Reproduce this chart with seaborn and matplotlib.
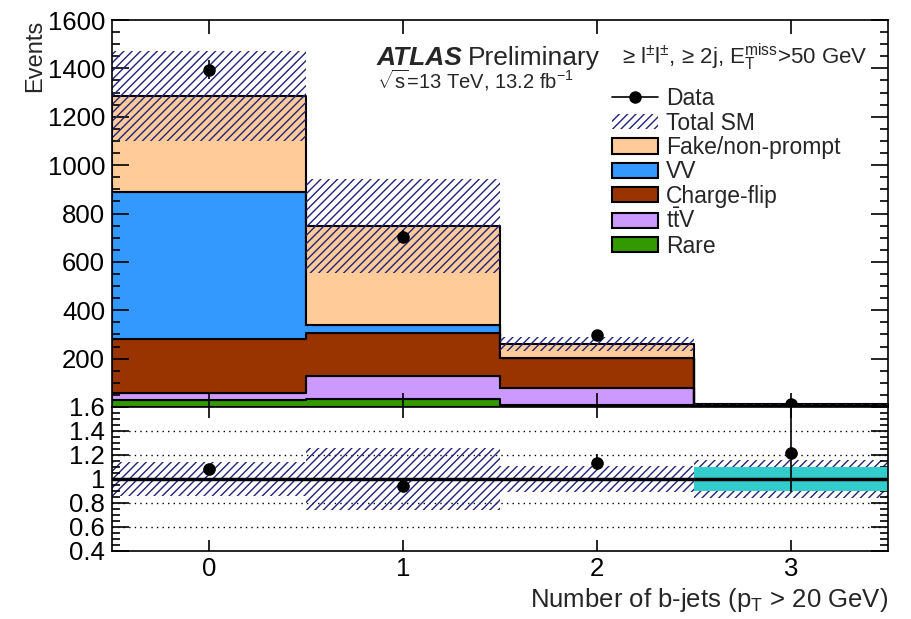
import numpy as np
import pandas as pd
import matplotlib
matplotlib.use("Agg")
import matplotlib.pyplot as plt
from matplotlib.patches import Patch
from matplotlib.lines import Line2D
from matplotlib.ticker import MultipleLocator, FixedLocator, NullLocator
import seaborn as sns

# ---- event yields per b-jet multiplicity bin ----
n_bjets = [0, 1, 2, 3]
processes = ["Fake/non-prompt", "VV", "Charge-flip", "t$\\bar{\\mathrm{t}}$V", "Rare"]
fake_nonprompt = [396, 409, 60, 2.0]
vv = [607, 34, 0, 0.5]
charge_flip = [225, 179, 122, 3.0]
ttv = [26, 94, 70, 4.0]
rare = [30, 33, 10, 2.0]
total_sm_unc = [186, 193, 29, 1.8]
data_counts = [1395, 704, 298, 14]
data_err_low = [37, 26.5, 17, 3.7]
data_err_high = [38, 27, 18, 4.8]
stat_band_ratio = [0.0, 0.0, 0.005, 0.10]

colors = {
    "Fake/non-prompt": "#ffcc99",
    "VV": "#3399ff",
    "Charge-flip": "#993300",
    "t$\\bar{\\mathrm{t}}$V": "#cc99ff",
    "Rare": "#339900",
}
hatch_col = "#22227a"
hatch_style = "////"

sns.set_theme(style="ticks")
plt.rcParams["font.family"] = ["Liberation Sans", "DejaVu Sans"]
plt.rcParams["mathtext.fontset"] = "custom"
plt.rcParams["mathtext.rm"] = "Liberation Sans"
plt.rcParams["mathtext.it"] = "Liberation Sans:italic"
plt.rcParams["mathtext.bf"] = "Liberation Sans:bold"
plt.rcParams["hatch.linewidth"] = 1.0
plt.rcParams["axes.linewidth"] = 1.2

yields = [fake_nonprompt, vv, charge_flip, ttv, rare]
df = pd.DataFrame({
    "nb": np.repeat([n_bjets], len(processes), axis=0).ravel(),
    "process": np.repeat(processes, len(n_bjets)),
    "events": np.concatenate(yields),
})

total = np.sum(yields, axis=0)
unc = np.array(total_sm_unc)
data = np.array(data_counts, dtype=float)
x = np.array(n_bjets)

fig = plt.figure(figsize=(9.12, 6.19), dpi=100)
ax1 = fig.add_axes([112 / 912, 212 / 619, 776 / 912, 387 / 619])
ax2 = fig.add_axes([112 / 912, 68 / 619, 776 / 912, 144 / 619])

# stacked backgrounds
sns.histplot(data=df, x="nb", weights="events", hue="process", hue_order=processes,
             palette=colors, multiple="stack", element="step", discrete=True,
             fill=True, alpha=1, edgecolor="black", linewidth=1.5, legend=False, ax=ax1)

# total SM uncertainty
ax1.bar(x, 2 * unc, bottom=total - unc, width=1.0, fill=False, hatch=hatch_style,
        edgecolor=hatch_col, linewidth=0, zorder=5)

# data
ax1.errorbar(x, data, yerr=[data_err_low, data_err_high], fmt="o", color="black",
             markersize=8, elinewidth=1.2, capsize=0, zorder=10)

ax1.set_xlim(-0.5, 3.5)
ax1.set_ylim(0, 1600)
ax1.yaxis.set_major_locator(FixedLocator([200, 400, 600, 800, 1000, 1200, 1400, 1600]))
ax1.yaxis.set_minor_locator(MultipleLocator(50))
ax1.xaxis.set_major_locator(FixedLocator(n_bjets))
ax1.xaxis.set_minor_locator(NullLocator())
ax1.tick_params(axis="both", which="both", direction="in", top=True, right=True,
                labelsize=18.5, width=1.2, colors="black")
ax1.tick_params(axis="y", which="major", length=12, pad=5)
ax1.tick_params(axis="y", which="minor", length=6)
ax1.tick_params(axis="x", which="major", length=10, labelbottom=False)
ax1.set_xlabel("")
ax1.set_ylabel("Events", loc="top", fontsize=17, labelpad=1)

fig.text(0.413, 0.895, "ATLAS", fontsize=19, fontweight="bold", fontstyle="italic",
         ha="left", va="baseline")
fig.text(0.513, 0.895, "Preliminary", fontsize=19, ha="left", va="baseline")
fig.text(0.682, 0.897, "≥ l$^{\\pm}$l$^{\\pm}$, ≥ 2j, E$_{\\mathrm{T}}^{\\mathrm{miss}}$>50 GeV",
         fontsize=16, ha="left", va="baseline")
fig.text(0.413, 0.857, "$\\sqrt{\\mathrm{s}}$=13 TeV, 13.2 fb$^{-1}$", fontsize=14.5,
         ha="left", va="baseline")

handles = [Line2D([0], [0], color="black", marker="o", markersize=8, lw=1.2),
           Patch(facecolor="none", edgecolor=hatch_col, hatch=hatch_style, linewidth=0)]
handles += [Patch(facecolor=colors[p], edgecolor="black", linewidth=1.5) for p in processes]
labels = ["Data", "Total SM"] + processes
ax1.legend(handles, labels, loc="upper left", bbox_to_anchor=(0.661, 0.874),
           bbox_transform=fig.transFigure, frameon=False, fontsize=16.5,
           handlelength=2.0, handleheight=0.65, labelspacing=0.06, handletextpad=0.35,
           borderaxespad=0)

# ratio panel
ratio = data / total
ax2.bar(x, 2 * unc / total, bottom=1 - unc / total, width=1.0, fill=False, hatch=hatch_style,
        edgecolor=hatch_col, linewidth=0, zorder=2)
band = np.array(stat_band_ratio)
ax2.bar(x, 2 * band, bottom=1 - band, width=1.0, color="#33cccc", linewidth=0, zorder=3)
for yv in [0.6, 0.8, 1.2, 1.4]:
    ax2.axhline(yv, color="black", linestyle=(0, (1, 3)), linewidth=1.0, zorder=1)
ax2.axhline(1.0, color="black", linewidth=2.5, zorder=4)
sns.scatterplot(x=x, y=ratio, color="black", s=70, edgecolor="black", zorder=10, ax=ax2)
ax2.errorbar(x, ratio, yerr=[np.array(data_err_low) / total, np.array(data_err_high) / total],
             fmt="none", ecolor="black", elinewidth=1.2, capsize=0, zorder=9)

ax2.set_xlim(-0.5, 3.5)
ax2.set_ylim(0.4, 1.6)
ax2.yaxis.set_major_locator(FixedLocator([0.4, 0.6, 0.8, 1.0, 1.2, 1.4, 1.6]))
ax2.yaxis.set_minor_locator(MultipleLocator(0.05))
ax2.set_yticklabels(["0.4", "0.6", "0.8", "1", "1.2", "1.4", "1.6"])
ax2.xaxis.set_major_locator(FixedLocator(n_bjets))
ax2.xaxis.set_minor_locator(NullLocator())
ax2.tick_params(axis="both", which="both", direction="in", top=True, right=True,
                labelsize=18.5, width=1.2, colors="black")
ax2.tick_params(axis="y", which="major", length=12, pad=5)
ax2.tick_params(axis="y", which="minor", length=6)
ax2.tick_params(axis="x", which="major", length=8, pad=4)
ax2.set_xlabel("Number of b-jets (p$_{\\mathrm{T}}$ > 20 GeV)", loc="right", fontsize=18.5,
               labelpad=4)
ax2.set_ylabel("")

for ax in (ax1, ax2):
    ax.set_axisbelow(False)
    for s in ax.spines.values():
        s.set_color("black")
        s.set_linewidth(1.2)
        s.set_zorder(12)

fig.savefig("out.png", dpi=100)
